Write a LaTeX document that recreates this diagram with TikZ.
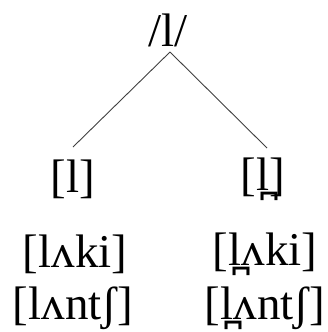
\documentclass[tikz,border=0pt]{standalone}
\usepackage{fontspec}
\setmainfont{Liberation Serif}
\begin{document}
\begin{tikzpicture}[x=1pt,y=-1pt,
  lab/.style={inner sep=0pt, font=\fontsize{47}{52}\selectfont},
  branch/.style={draw=black!75, line width=0.9pt}]
\useasboundingbox (0,0) rectangle (328,332);
\node[lab] (top) at (168,30) {/l/};
\coordinate (apex) at (170,52);
\node[lab] (l1) at (73,179) {[l]};
\node[lab] (l2) at (263,179) {[l̪]};
\draw[branch] (apex) -- ([yshift=32]l1.center);
\draw[branch] (apex) -- ([xshift=4,yshift=31]l2.center);
\node[lab] (a1) at (75,254) {[lʌki]};
\node[lab] (a2) at (265,254) {[l̪ʌki]};
\node[lab] (b1) at (73,308) {[lʌntʃ]};
\node[lab] (b2) at (265,308) {[l̪ʌntʃ]};
\end{tikzpicture}
\end{document}
